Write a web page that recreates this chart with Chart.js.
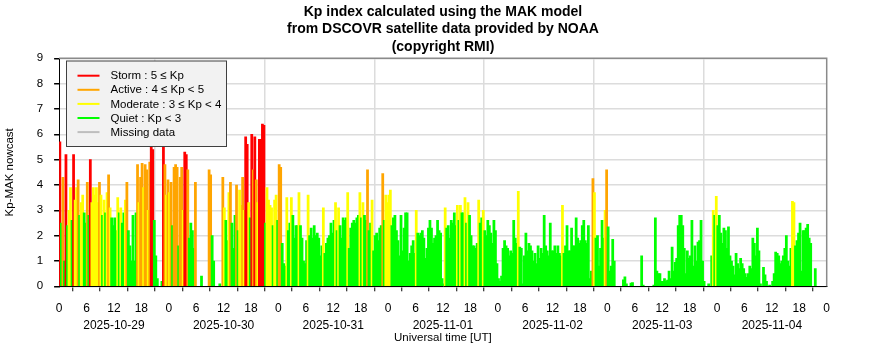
<!DOCTYPE html>
<html>
<head>
<meta charset="utf-8">
<script src="https://cdn.jsdelivr.net/npm/chart.js@4"></script>
<style>
html,body{margin:0;padding:0;background:#fff;}
canvas{display:block;}
</style>
</head>
<body>
<canvas id="c" width="886" height="360"></canvas>
<script>
// ---- data (Kp-MAK nowcast, 20-minute samples, null = no data) ----
const dateLabels = ['2025-10-29','2025-10-30','2025-10-31','2025-11-01','2025-11-02','2025-11-03','2025-11-04'];
const yTickValues = [0,1,2,3,4,5,6,7,8,9];
const xTickHours = [0,6,12,18];
const samplesPerHour = 3;

const day1 = [5.7,2.5,4.3, 1.0,5.2,2.4, 3.0,3.9,2.6, 5.2,3.4,3.9, 4.2,2.8,3.3, 3.6,2.9,2.5,
  4.1,2.8,5.0, 3.3,3.9,3.6, 3.9,3.3,4.1, 3.6,2.8,3.4, 2.9,3.7,4.4, 3.1,2.7,2.4,
  2.7,2.2,3.5, 2.9,3.1,2.5, 2.9,3.4,4.1, 2.2,1.6,1.0, 2.8,1.0,2.9, 4.8,3.3,4.3,
  4.85,3.9,4.8, 4.6,3.0,4.9, 5.5,5.4,2.6, 1.2,0.3,null, null,0.2,5.6, 4.8,3.6,4.2];
const day2 = [3.7,4.1,2.4, 4.7,4.8,4.7, 1.6,4.3,4.7, 3.0,5.3,5.2, 4.6,1.9,2.5, 2.2,1.5,4.1,
  null,null,null, 0.4,null,null, null,null,4.6, 4.4,2.0,1.0, null,null,null, 0.1,null,4.3,
  3.1,2.6,1.8, 3.7,4.1,2.5, 1.5,2.8,4.0, 2.2,3.8,3.2, 4.3,3.0,5.9, 5.6,3.3,2.7,
  6.0,4.6,5.9, 4.2,3.3,5.8, 5.8,6.4,6.35, 2.5,3.9,3.4, 3.2,3.1,2.4, 3.4,3.6,2.6];
const day3 = [4.8,4.7,1.7, 0.9,0.8,3.5, 2.2,2.5,3.5, 2.8,1.9,2.4, 2.4,3.7,2.4, 1.9,1.0,0.9,
  1.8,3.6,2.0, 2.3,1.9,2.4, 2.0,2.1,1.9, 1.2,1.6,3.1, 1.3,1.7,1.9, 2.0,2.5,2.1,
  2.6,3.3,2.2, 3.1,2.4,1.9, 2.7,2.6,2.7, 3.7,1.5,2.3, 2.5,2.6,2.5, 2.7,2.8,3.7,
  2.7,3.3,2.8, 2.6,4.6,2.2, 2.5,3.4,1.4, 2.0,2.1,1.8, 2.3,2.4,4.45, 2.6,3.6,3.3];
const day4 = [3.6,3.8,2.4, 2.7,2.8,2.2, 1.8,1.2,2.8, 1.4,2.3,2.9, 2.9,1.0,1.3, 1.6,1.8,1.3,
  3.0,2.1,2.0, 2.1,2.2,1.9, 1.1,1.5,2.3, 2.6,2.3,1.7, 1.9,2.0,2.6, 2.2,2.1,0.3,
  0.1,3.1,2.3, 2.4,1.9,2.6, 2.5,2.9,2.4, 3.2,2.6,3.2, 2.9,2.9,3.5, 2.5,3.3,2.8,
  2.0,1.6,1.6, 1.5,1.7,3.4, 2.5,2.7,3.0, 2.2,2.0,2.6, 2.4,2.1,1.7, 2.6,2.2,0.9];
const day5 = [0.3,0.2,0.4, 1.5,1.8,1.6, 1.5,1.2,1.4, 1.3,2.6,1.9, 1.7,3.75,1.55, 1.5,0.1,1.2,
  2.1,1.4,1.7, 1.6,1.4,1.0, 1.3,0.9,1.6, 1.1,1.5,1.3, 2.8,1.6,1.4, 1.2,2.5,1.4,
  1.4,1.6,1.3, 1.6,1.3,1.2, 3.2,1.3,1.6, 2.4,1.4,1.4, 2.3,1.6,1.6, 2.7,1.9,1.7,
  1.8,2.4,2.6, 1.8,1.7,2.4, 0.3,0.6,4.25, 3.7,1.9,2.0, 0.8,1.5,2.6, 1.9,3.0,4.6];
const day6 = [2.35,0.6,0.8, 1.85,1.0,null, null,null,null, null,0.26,0.37, 0.1,null,null, 0.13,0.15,null,
  null,null,null, null,1.2,0.05, null,null,null, null,null,null, 0.05,2.7,0.6, 0.5,0.5,0.2,
  0.2,0.3,0.2, 0.25,0.6,0.3, 1.55,0.6,0.95, 1.1,2.4,2.8, 2.8,2.4,1.5, 0.5,1.4,1.1,
  1.2,2.6,0.8, 1.6,1.0,1.75, 1.8,2.6,1.0, 0.2,null,null, 0.1,null,1.2, 3.0,2.8,3.55];
const day7 = [2.4,2.8,2.1, 1.7,2.3,2.2, 1.5,2.35,1.2, 1.0,0.8,0.45, 1.3,0.9,0.7, 1.1,0.9,0.7,
  0.5,0.35,0.5, 0.8,0.7,1.9, 1.7,1.2,2.3, 1.4,0.1,null, 0.75,0.45,0.2, null,0.05,null,
  0.2,0.5,1.35, 1.3,1.2,0.9, 1.0,1.2,1.5, 2.0,1.0,0.8, 1.5,3.35,3.3, 1.6,1.8,2.1,
  2.5,0.6,2.2, 2.2,2.3,2.45, 1.9,1.7,null, null,0.7,null, null,null,null, null,null,null];

const days = [day1, day2, day3, day4, day5, day6, day7];

const legendItems = [
  {label:'Storm : 5 \u2264 Kp', color:'#ff0000'},
  {label:'Active : 4 \u2264 Kp < 5', color:'#ffa500'},
  {label:'Moderate : 3 \u2264 Kp < 4', color:'#ffff00'},
  {label:'Quiet : Kp < 3', color:'#00ff00'},
  {label:'Missing data', color:'#bebebe'}
];

// ---- build points ----
const points = [];
days.forEach((arr, d) => {
  arr.forEach((v, i) => {
    if (v === null) return;
    points.push({x: d*24 + (i + 0.5)/samplesPerHour, y: v});
  });
});

function kpColor(v){
  if (v >= 5) return '#ff0000';
  if (v >= 4) return '#ffa500';
  if (v >= 3) return '#ffff00';
  return '#00ff00';
}

const FONT = '"Liberation Sans", Arial, sans-serif';

const framePlugin = {
  id: 'frame',
  afterDraw(chart){
    const {ctx, chartArea: a} = chart;
    ctx.save();
    ctx.strokeStyle = '#8a8a8a';
    ctx.lineWidth = 1.5;
    ctx.beginPath();
    ctx.moveTo(a.left, a.top);
    ctx.lineTo(a.right, a.top);
    ctx.lineTo(a.right, a.bottom);
    ctx.stroke();
    // legend box
    const bx = 66.5, by = 61, bw = 160, bh = 85.5;
    ctx.fillStyle = '#f2f2f2';
    ctx.fillRect(bx, by, bw, bh);
    ctx.strokeStyle = '#404040';
    ctx.lineWidth = 1;
    ctx.strokeRect(bx, by, bw, bh);
    ctx.font = '11.5px ' + FONT;
    ctx.textBaseline = 'middle';
    ctx.textAlign = 'left';
    legendItems.forEach((it, i) => {
      const y = 75.7 + i*14.1;
      ctx.strokeStyle = it.color;
      ctx.lineWidth = 2;
      ctx.beginPath();
      ctx.moveTo(77.5, y);
      ctx.lineTo(99.5, y);
      ctx.stroke();
      ctx.fillStyle = '#000';
      ctx.fillText(it.label, 110.5, y + 0.5);
    });
    ctx.restore();
  }
};

new Chart(document.getElementById('c'), {
  type: 'bar',
  data: {
    datasets: [{
      data: points,
      backgroundColor: (c) => kpColor(c.raw ? c.raw.y : 0),
      borderWidth: 0,
      barThickness: 2.1
    }]
  },
  options: {
    responsive: false,
    animation: false,
    devicePixelRatio: 1,
    layout: {padding: 0},
    plugins: {
      legend: {display: false},
      tooltip: {enabled: false},
      title: {
        display: true,
        text: ['Kp index calculated using the MAK model', 'from DSCOVR satellite data provided by NOAA', '(copyright RMI)'],
        color: '#000',
        font: {family: FONT, size: 14, weight: 'bold', lineHeight: 17.5/14},
        padding: {top: 3, bottom: 2.8}
      }
    },
    scales: {
      x: {
        type: 'linear',
        min: 0, max: 168,
        offset: false,
        afterFit(s){ s.height = 73.7; },
        ticks: {
          stepSize: 6,
          autoSkip: false,
          maxRotation: 0,
          padding: 8.5,
          color: '#000',
          font: {family: FONT, size: 12, lineHeight: 17/12},
          callback(v){
            const h = ((v % 24) + 24) % 24;
            const d = Math.floor(v/24);
            if (xTickHours.indexOf(h) < 0) return '';
            if (h === 12 && d < dateLabels.length) return [String(h), dateLabels[d]];
            return String(h);
          }
        },
        grid: {
          color: (c) => (c.tick && c.tick.value % 24 === 0 && c.tick.value > 0 && c.tick.value < 168) ? '#dcdcdc' : 'rgba(0,0,0,0)',
          lineWidth: 1.5,
          tickColor: '#000',
          tickWidth: 1,
          tickLength: 5
        },
        border: {color: '#000', width: 1},
        title: {
          display: true,
          text: 'Universal time [UT]',
          color: '#000',
          font: {family: FONT, size: 11.5},
          padding: {top: 0, bottom: 15.4}
        }
      },
      y: {
        min: 0, max: 9,
        afterFit(s){ s.width = 59.1; },
        afterBuildTicks(s){ s.ticks = yTickValues.map(v => ({value: v})); },
        ticks: {
          stepSize: 1,
          padding: 11,
          color: '#000',
          font: {family: FONT, size: 11.5}
        },
        grid: {
          color: '#dcdcdc',
          lineWidth: 1.5,
          tickColor: '#000',
          tickLength: 5
        },
        border: {color: '#000', width: 1},
        title: {
          display: true,
          text: 'Kp-MAK nowcast',
          color: '#000',
          font: {family: FONT, size: 11.5},
          padding: {top: 3, bottom: 0}
        }
      },
      yRight: {
        position: 'right',
        display: true,
        min: 0, max: 9,
        afterFit(s){ s.width = 59.3; },
        ticks: {display: false},
        grid: {display: false, drawTicks: false},
        border: {display: false},
        title: {display: false}
      }
    }
  },
  plugins: [framePlugin]
});
</script>
</body>
</html>
